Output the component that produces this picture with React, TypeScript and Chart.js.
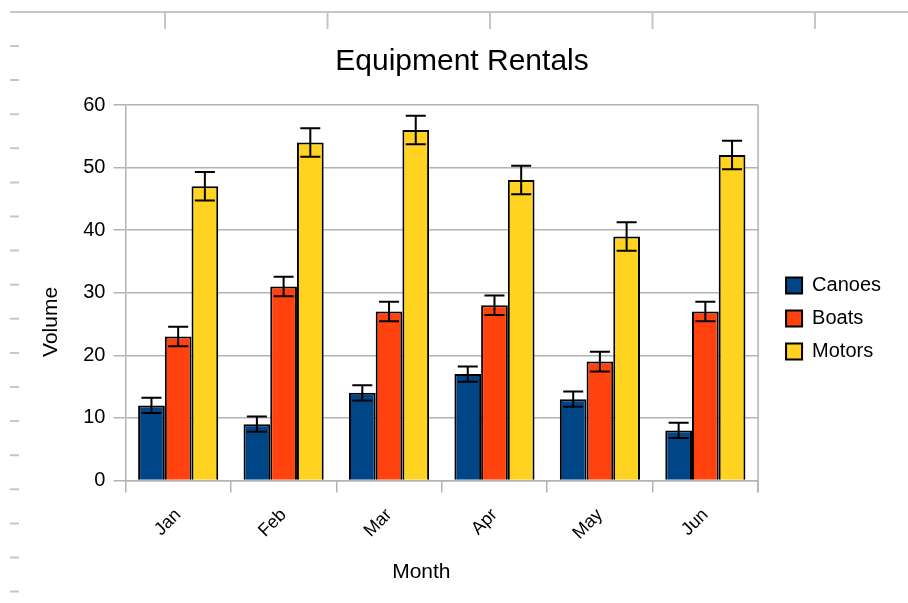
import React, { useEffect, useRef } from "react";
import { Chart, registerables } from "chart.js";

Chart.register(...registerables);

const months = ["Jan", "Feb", "Mar", "Apr", "May", "Jun"];
const canoes = [12, 9, 14, 17, 13, 8];
const boats = [23, 31, 27, 28, 19, 27];
const motors = [47, 54, 56, 48, 39, 52];
const canoesErr = [1.23, 1.23, 1.23, 1.23, 1.23, 1.23];
const boatsErr = [1.57, 1.57, 1.57, 1.57, 1.57, 1.57];
const motorsErr = [2.28, 2.28, 2.28, 2.28, 2.28, 2.28];
const yTicks = [0, 10, 20, 30, 40, 50, 60];

const FONT = "'Liberation Sans', Arial, sans-serif";
const GRID = "#b3b3b3";
// trailing non-breaking spaces nudge the axis titles off-centre as in the reference
const PAD = (n: number) => "\u00a0".repeat(n);

const errorBarPlugin = {
  id: "errorBars",
  afterDatasetsDraw(chart: any) {
    const ctx = chart.ctx;
    const yScale = chart.scales.y;
    chart.data.datasets.forEach((ds: any, di: number) => {
      const meta = chart.getDatasetMeta(di);
      if (meta.hidden) return;
      meta.data.forEach((el: any, i: number) => {
        const v = ds.data[i];
        const e = ds.errors[i];
        const yt = yScale.getPixelForValue(v + e);
        const yb = yScale.getPixelForValue(v - e);
        const half = (el.width * 0.75) / 2;
        ctx.save();
        ctx.strokeStyle = "#000";
        ctx.lineWidth = 2;
        ctx.beginPath();
        ctx.moveTo(el.x, yt);
        ctx.lineTo(el.x, yb);
        ctx.moveTo(el.x - half, yt);
        ctx.lineTo(el.x + half, yt);
        ctx.moveTo(el.x - half, yb);
        ctx.lineTo(el.x + half, yb);
        ctx.stroke();
        ctx.restore();
      });
    });
  },
};

const frameAndRulerPlugin = {
  id: "frameRuler",
  beforeDraw(chart: any) {
    const ctx = chart.ctx;
    ctx.save();
    ctx.strokeStyle = "#c6c6c6";
    ctx.lineWidth = 2;
    ctx.beginPath();
    ctx.moveTo(10, 12);
    ctx.lineTo(chart.width, 12);
    for (let k = 0; k < 5; k++) {
      const x = 165 + k * 162.5;
      ctx.moveTo(x, 12);
      ctx.lineTo(x, 29);
    }
    for (let k = 0; k < 17; k++) {
      const y = 46 + k * 34.1;
      ctx.moveTo(10, y);
      ctx.lineTo(19, y);
    }
    ctx.stroke();
    ctx.restore();
  },
  afterDatasetsDraw(chart: any) {
    const a = chart.chartArea;
    const ctx = chart.ctx;
    ctx.save();
    ctx.strokeStyle = GRID;
    ctx.lineWidth = 1.5;
    ctx.beginPath();
    ctx.moveTo(a.right, a.top);
    ctx.lineTo(a.right, a.bottom + 12);
    ctx.stroke();
    ctx.restore();
  },
};

export default function App() {
  const ref = useRef<HTMLCanvasElement | null>(null);
  useEffect(() => {
    if (!ref.current) return;
    const mk = (label: string, data: number[], errors: number[], color: string) => ({
      label,
      data,
      errors,
      backgroundColor: color,
      borderColor: "#000",
      borderWidth: 2,
      categoryPercentage: 0.76,
      barPercentage: 1.0,
    });
    const chart = new Chart(ref.current, {
      type: "bar",
      data: {
        labels: months,
        datasets: [
          mk("Canoes", canoes, canoesErr, "#004586"),
          mk("Boats", boats, boatsErr, "#ff420e"),
          mk("Motors", motors, motorsErr, "#ffd320"),
        ] as any,
      },
      options: {
        animation: false,
        responsive: false,
        layout: { padding: { top: 0, left: 33, right: 17, bottom: 18 } },
        plugins: {
          title: {
            display: true,
            text: "Equipment Rentals",
            color: "#000",
            font: { family: FONT, size: 30, weight: "normal" },
            padding: { top: 44, bottom: 25 },
          },
          legend: {
            position: "right",
            title: {
              display: true,
              text: " ",
              font: { family: FONT, size: 10 },
              padding: { top: 40, bottom: 0 },
            },
            labels: {
              color: "#000",
              font: { family: FONT, size: 20 },
              boxWidth: 16,
              boxHeight: 16,
              padding: 13,
            },
          },
          tooltip: { enabled: false },
        },
        scales: {
          x: {
            grid: {
              display: true,
              drawOnChartArea: false,
              drawTicks: true,
              tickLength: 12,
              color: GRID,
              lineWidth: 1.5,
              offset: true,
            },
            border: { color: GRID, width: 1.5 },
            ticks: {
              color: "#000",
              font: { family: FONT, size: 18 },
              maxRotation: 45,
              minRotation: 45,
              padding: 12,
            },
            title: {
              display: true,
              text: "Month" + PAD(7),
              color: "#000",
              font: { family: FONT, size: 21 },
              padding: { top: 4, bottom: 0 },
            },
          },
          y: {
            min: 0,
            max: 60,
            afterBuildTicks: (s: any) => {
              s.ticks = yTicks.map((v) => ({ value: v }));
            },
            grid: {
              color: GRID,
              lineWidth: 1.5,
              tickLength: 12,
            },
            border: { color: GRID, width: 1.5 },
            ticks: {
              color: "#000",
              font: { family: FONT, size: 20 },
              padding: 8,
            },
            title: {
              display: true,
              text: "Volume" + PAD(10),
              color: "#000",
              font: { family: FONT, size: 21 },
              padding: { top: 6, bottom: 11 },
            },
          },
          gap: {
            type: "linear",
            position: "right",
            display: true,
            grid: { display: false },
            border: { display: false },
            ticks: { display: false },
            afterFit: (s: any) => {
              s.width = 15;
            },
          },
        },
      },
      plugins: [errorBarPlugin, frameAndRulerPlugin],
    });
    return () => chart.destroy();
  }, []);
  return (
    <div style={{ position: "absolute", left: 0, top: 0, width: 908, height: 603, background: "#fff" }}>
      <canvas ref={ref} width={908} height={603} style={{ display: "block" }} />
    </div>
  );
}
